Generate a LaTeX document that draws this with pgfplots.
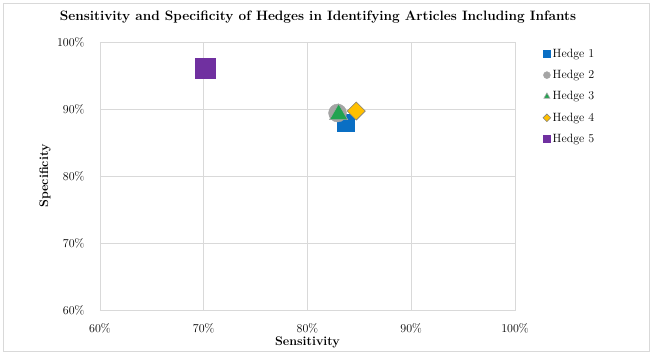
\documentclass[border=0pt]{standalone}
\usepackage{fontspec}
\usepackage{pgfplots}
\pgfplotsset{compat=1.18}
\definecolor{h1}{HTML}{0A6FC4}
\definecolor{h2}{HTML}{A5A5A5}
\definecolor{h3}{HTML}{21A350}
\definecolor{h4}{HTML}{FFC000}
\definecolor{h5}{HTML}{7030A0}
\definecolor{gridc}{HTML}{D9D9D9}
\begin{document}
\begin{tikzpicture}[x=1pt,y=1pt]
\useasboundingbox (-100,-44) rectangle (552,310);
\draw[gridc] (-97,-41) rectangle (549,307);
\node[font=\fontsize{13.6}{15}\selectfont\bfseries] at (218,293) {Sensitivity and Specificity of Hedges in Identifying Articles Including Infants};
\begin{axis}[
  at={(0,0)}, anchor=south west,
  scale only axis, width=415pt, height=268pt,
  xmin=60, xmax=100, ymin=60, ymax=100,
  xtick={60,70,80,90,100}, ytick={60,70,80,90,100},
  xticklabel={\pgfmathprintnumber{\tick}\%},
  yticklabel={\pgfmathprintnumber{\tick}\%},
  /pgf/number format/assume math mode=true,
  tick label style={font=\fontsize{12}{14}\selectfont},
  major tick length=0pt,
  grid=major, grid style={gridc, line width=0.8pt},
  axis line style={gridc, line width=0.8pt},
  xlabel={\bfseries Sensitivity}, ylabel={\bfseries Specificity},
  label style={font=\fontsize{12.5}{14}\selectfont},
  xlabel style={at={(0.5,0)}, anchor=center, yshift=-32pt},
  ylabel style={at={(0,0.5)}, anchor=center, yshift=55pt},
  xticklabel style={yshift=-10pt},
  yticklabel style={xshift=-12pt},
  legend style={at={(1.06,0.99)}, anchor=north west, draw=none, fill=none,
    font=\fontsize{12}{14}\selectfont, row sep=7.5pt,
    legend cell align=left},
  legend image post style={mark size=3.5pt},
  legend image code/.code={\draw[mark repeat=2,mark phase=2] plot coordinates {(0cm,0cm) (0.12cm,0cm) (0.24cm,0cm)};},
]
\addplot[only marks, mark=square*, mark size=8.5pt, color=h1, mark options={draw=h1, fill=h1}] coordinates {(83.7,87.9)};
\addlegendentry{Hedge 1}
\addplot[only marks, mark=*, mark size=9pt, color=h2, mark options={draw=h2, fill=h2}] coordinates {(82.9,89.4)};
\addlegendentry{Hedge 2}
\addplot[only marks, mark=triangle*, mark size=10.5pt, color=h3, mark options={draw=h2, fill=h3, line width=0.6pt}] coordinates {(83.0,89.2)};
\addlegendentry{Hedge 3}
\addplot[only marks, mark=square*, mark size=6.4pt, color=h4, mark options={rotate=45, draw=gray, fill=h4, line width=0.6pt}, legend image post style={mark size=2.7pt, line width=0.4pt}] coordinates {(84.7,89.7)};
\addlegendentry{Hedge 4}
\addplot[only marks, mark=square*, mark size=10pt, color=h5, mark options={draw=h5, fill=h5}] coordinates {(70.1,96.1)};
\addlegendentry{Hedge 5}
\end{axis}
\end{tikzpicture}
\end{document}
